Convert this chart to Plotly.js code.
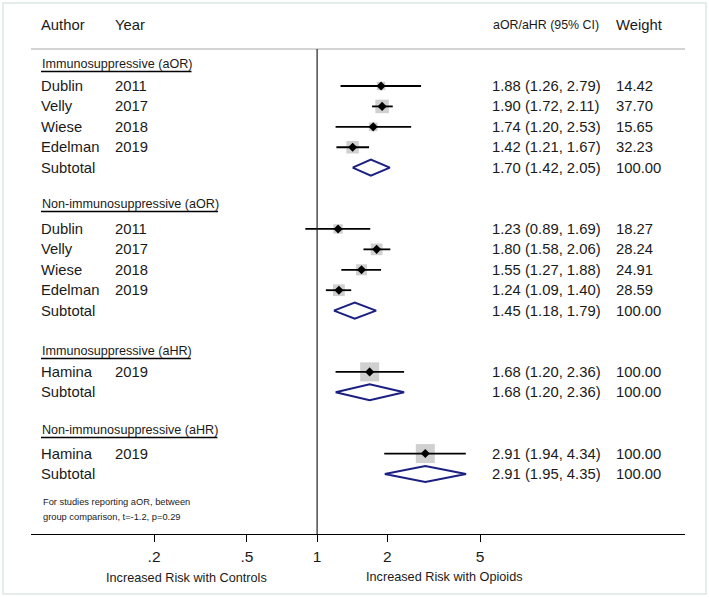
<!DOCTYPE html>
<html>
<head>
<meta charset="utf-8">
<script src="https://cdn.plot.ly/plotly-3.0.1.min.js"></script>
<style>
  html, body { margin: 0; padding: 0; background: #ffffff; }
  #chart { width: 709px; height: 597px; }
</style>
</head>
<body>
<div id="chart"></div>
<script>
// ---------------- DATA ----------------
const groups = ['Immunosuppressive (aOR)', 'Non-immunosuppressive (aOR)', 'Immunosuppressive (aHR)', 'Non-immunosuppressive (aHR)'];
const authors = ['Dublin', 'Velly', 'Wiese', 'Edelman', 'Dublin', 'Velly', 'Wiese', 'Edelman', 'Hamina', 'Hamina'];
const years = ['2011', '2017', '2018', '2019', '2011', '2017', '2018', '2019', '2019', '2019'];
const studyGroup = [0, 0, 0, 0, 1, 1, 1, 1, 2, 3];
const est = [1.88, 1.90, 1.74, 1.42, 1.23, 1.80, 1.55, 1.24, 1.68, 2.91];
const lower = [1.26, 1.72, 1.20, 1.21, 0.89, 1.58, 1.27, 1.09, 1.20, 1.94];
const upper = [2.79, 2.11, 2.53, 1.67, 1.69, 2.06, 1.88, 1.40, 2.36, 4.34];
const weights = [14.42, 37.70, 15.65, 32.23, 18.27, 28.24, 24.91, 28.59, 100.00, 100.00];
const subEst = [1.70, 1.45, 1.68, 2.91];
const subLower = [1.42, 1.18, 1.20, 1.95];
const subUpper = [2.05, 1.79, 2.36, 4.35];
const subWeight = [100.00, 100.00, 100.00, 100.00];
const tickVals = [0.2, 0.5, 1, 2, 5];
const tickText = ['.2', '.5', '1', '2', '5'];
const footnote = ['For studies reporting aOR, between', 'group comparison, t=-1.2, p=0.29'];
const xCaptions = ['Increased Risk with Controls', 'Increased Risk with Opioids'];

// ---------------- LAYOUT CONSTANTS (pixels) ----------------
const W = 709, H = 597;
const plotL = 31, plotR = 685, plotT = 49, plotB = 534;
const rowStep = 20.42, row0 = 86;
const studyRowIdx = [0, 1, 2, 3, 7, 8, 9, 10, 14, 18];
const subRowIdx = [4, 11, 15, 19];
const headerPx = [64, 204, 351, 430];
const FONT = '"Liberation Sans", Arial, Helvetica, sans-serif';
const TXT = '#1a1a1a';
const NAVY = '#1a1f82';
const BODY = 14.8;

const rowY = k => row0 + rowStep * k;
const xp = px => (px - plotL) / (plotR - plotL);
const yp = py => (plotB - py) / (plotB - plotT);

function textW(str, size) {
  const c = document.createElement('canvas').getContext('2d');
  c.font = size + 'px "Liberation Sans", Arial, sans-serif';
  return c.measureText(str).width;
}

const traces = [];
const annotations = [];
const shapes = [];

// weight boxes
traces.push({
  type: 'scatter', mode: 'markers', hoverinfo: 'skip', showlegend: false,
  x: est, y: studyRowIdx.map(rowY),
  marker: { symbol: 'square', color: '#bcbcbc', size: weights.map(w => Math.min(2.2 * Math.sqrt(w), 19)), line: { width: 0 } }
});
// CI lines
const ciX = [], ciY = [];
est.forEach((e, i) => { const y = rowY(studyRowIdx[i]); ciX.push(lower[i], upper[i], null); ciY.push(y, y, null); });
traces.push({ type: 'scatter', mode: 'lines', x: ciX, y: ciY, line: { color: '#000', width: 1.8 }, hoverinfo: 'skip', showlegend: false });
// point estimates
traces.push({
  type: 'scatter', mode: 'markers', x: est, y: studyRowIdx.map(rowY), hoverinfo: 'skip', showlegend: false,
  marker: { symbol: 'diamond', color: '#000', size: 7 }
});
// subtotal diamonds
subEst.forEach((e, g) => {
  const y = rowY(subRowIdx[g]), h = 8;
  traces.push({
    type: 'scatter', mode: 'lines', fill: 'toself', fillcolor: '#ffffff', hoverinfo: 'skip', showlegend: false,
    x: [subLower[g], e, subUpper[g], e, subLower[g]],
    y: [y, y - h, y, y + h, y],
    line: { color: NAVY, width: 2 }
  });
});

function ann(text, px, py, size, anchor, extra) {
  annotations.push(Object.assign({
    text: text, xref: 'paper', yref: 'paper', x: xp(px), y: yp(py),
    xanchor: anchor || 'left', yanchor: 'middle', showarrow: false,
    font: { family: FONT, size: size, color: TXT }, borderpad: 0
  }, extra || {}));
}

// column headers
ann('Author', 40, 25, BODY);
ann('Year', 114, 25, BODY);
ann('aOR/aHR (95% CI)', 492, 25, 12.4);
ann('Weight', 615, 25, BODY);

// group headers with underline
groups.forEach((g, i) => {
  ann(g, 41, headerPx[i], 12.6);
  const w = textW(g, 12.6);
  const uy = headerPx[i] + 7.5;
  shapes.push({ type: 'line', xref: 'paper', yref: 'paper', x0: xp(41), x1: xp(41 + w), y0: yp(uy), y1: yp(uy), line: { color: '#000', width: 1.4 } });
});

const fmtCI = (e, l, u) => e.toFixed(2) + ' (' + l.toFixed(2) + ', ' + u.toFixed(2) + ')';
// study rows
authors.forEach((a, i) => {
  const y = rowY(studyRowIdx[i]);
  ann(a, 40, y, BODY);
  ann(years[i], 114, y, BODY);
  ann(fmtCI(est[i], lower[i], upper[i]), 491, y, BODY);
  ann(weights[i].toFixed(2), 615, y, BODY);
});
// subtotal rows
subEst.forEach((e, g) => {
  const y = rowY(subRowIdx[g]);
  ann('Subtotal', 40, y, BODY);
  ann(fmtCI(e, subLower[g], subUpper[g]), 491, y, BODY);
  ann(subWeight[g].toFixed(2), 615, y, BODY);
});

// footnote
ann(footnote[0], 42, 502, 9.3);
ann(footnote[1], 42, 517, 9.3);

// x captions
ann(xCaptions[0], 186, 578, 12.7, 'center');
ann(xCaptions[1], 444, 577, 12.7, 'center');

// top rule
shapes.push({ type: 'line', xref: 'paper', yref: 'paper', x0: 0, x1: 1, y0: 1, y1: 1, line: { color: '#a8a8a8', width: 1 } });
// null line at 1
shapes.push({ type: 'line', xref: 'x', yref: 'paper', x0: 1, x1: 1, y0: 0, y1: 1, line: { color: '#222', width: 1.2 } });
// outer frame
shapes.push({ type: 'rect', xref: 'paper', yref: 'paper', x0: xp(3), x1: xp(706), y0: yp(594), y1: yp(3), line: { color: '#dde6e6', width: 1.5 } });

const layout = {
  width: W, height: H,
  margin: { l: plotL, r: W - plotR, t: plotT, b: H - plotB, pad: 0 },
  paper_bgcolor: '#ffffff', plot_bgcolor: '#ffffff',
  showlegend: false,
  xaxis: {
    type: 'log', range: [Math.log10(0.05934), Math.log10(37.78)],
    tickvals: tickVals, ticktext: tickText,
    ticks: 'outside', ticklen: 7, tickwidth: 1, tickcolor: '#000',
    showline: true, linecolor: '#000', linewidth: 1.2,
    showgrid: false, zeroline: false, fixedrange: true,
    tickfont: { family: FONT, size: 15.5, color: TXT },
    ticklabelstandoff: 1
  },
  yaxis: {
    range: [plotB, plotT], showgrid: false, zeroline: false, showticklabels: false,
    showline: false, ticks: '', fixedrange: true
  },
  shapes: shapes,
  annotations: annotations
};

Plotly.newPlot('chart', traces, layout, { displayModeBar: false, staticPlot: true });
</script>
</body>
</html>
